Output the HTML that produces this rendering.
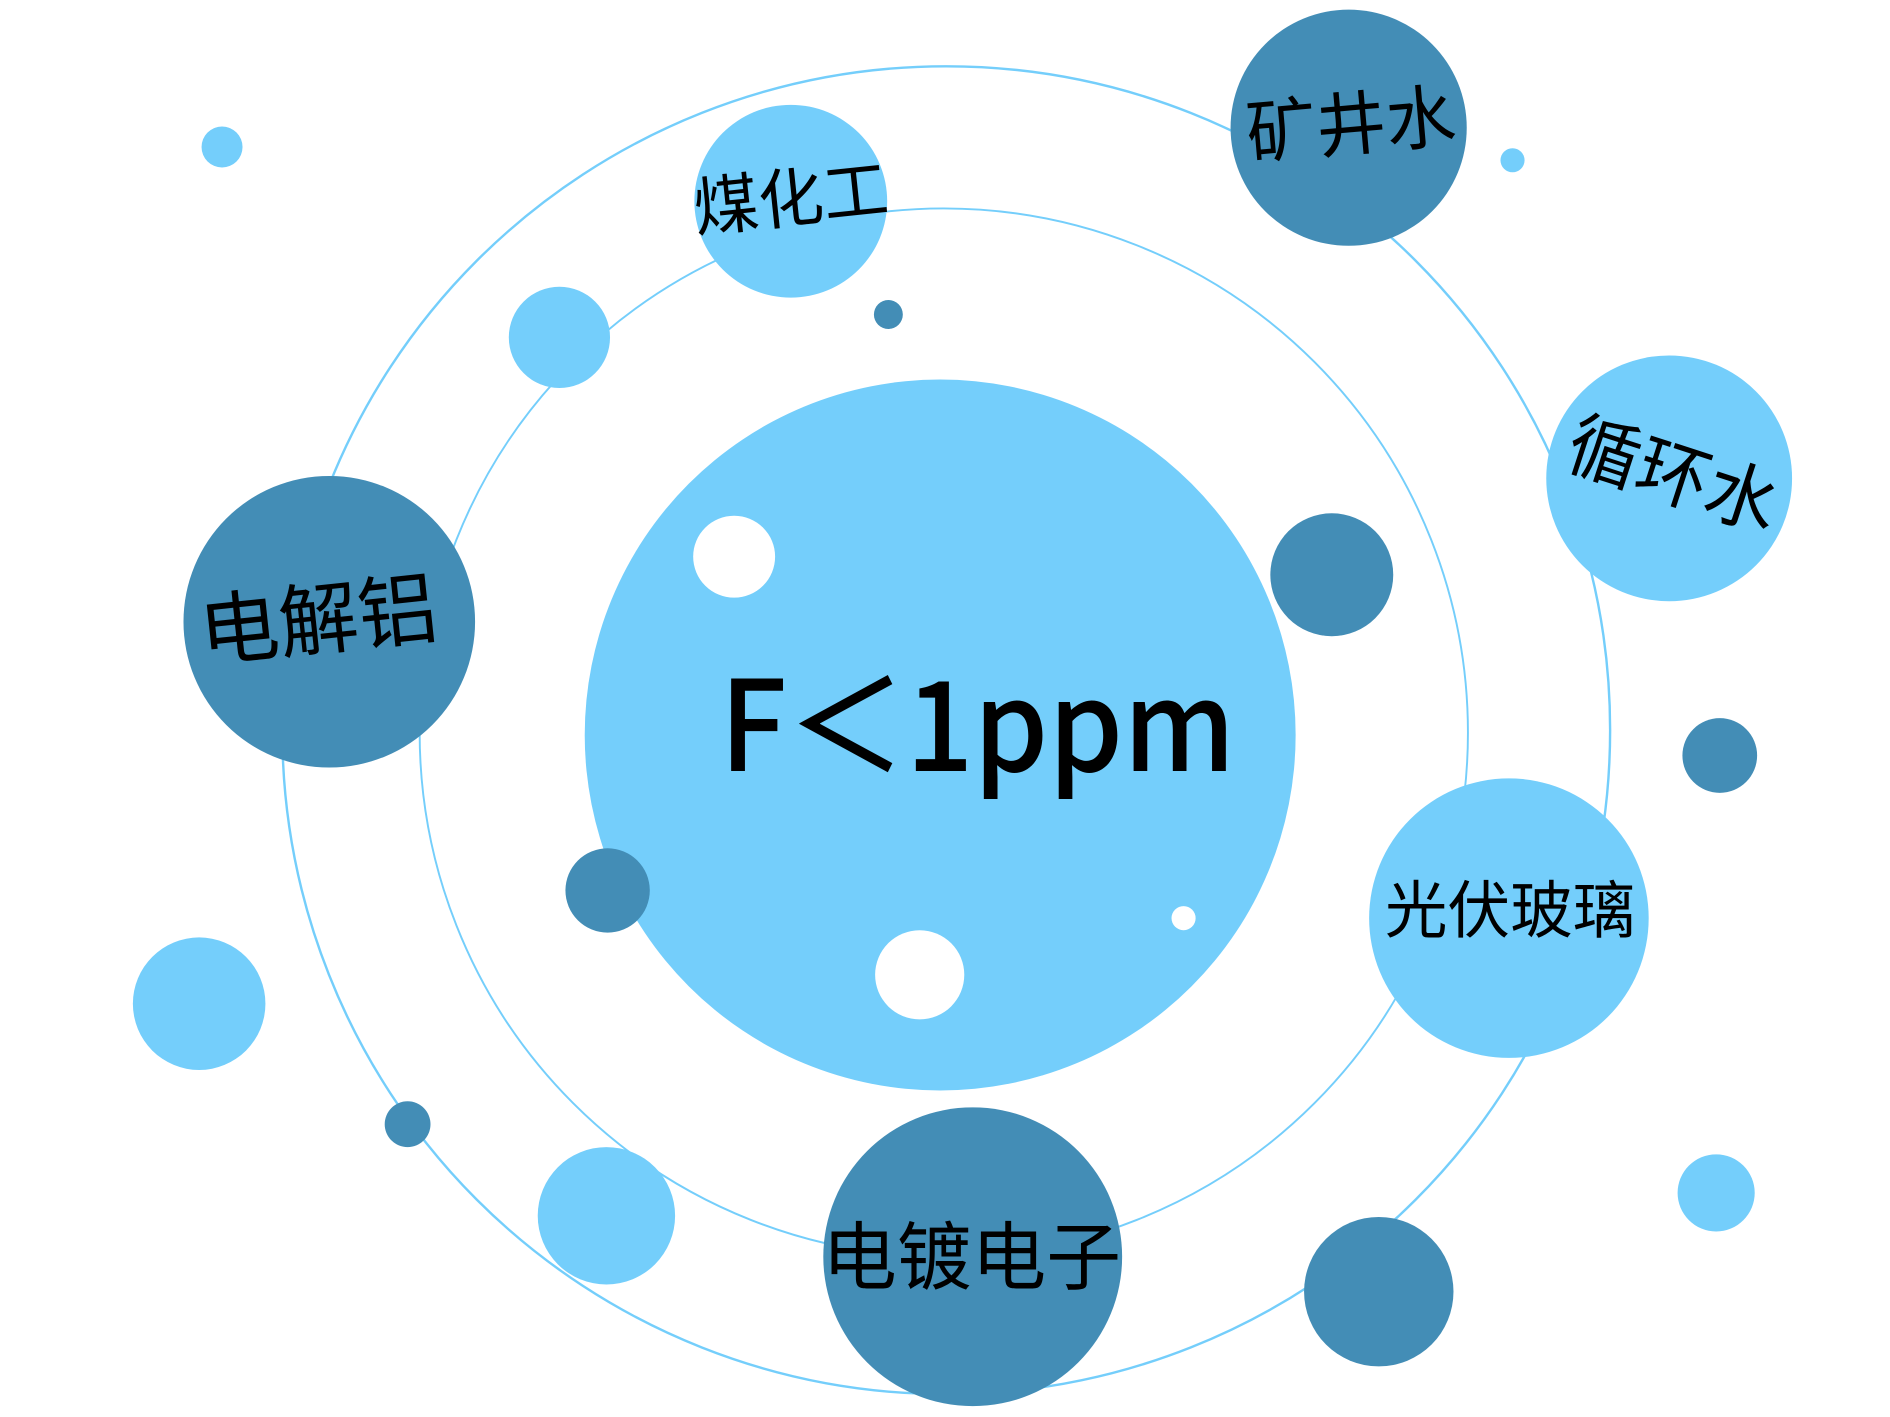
<!DOCTYPE html>
<html><head><meta charset="utf-8"><style>html,body{margin:0;padding:0;background:#fff}svg{display:block}</style></head>
<body>
<svg width="1890" height="1417" viewBox="0 0 1568 1176" xmlns="http://www.w3.org/2000/svg" font-family="'Noto Sans CJK SC','Liberation Sans',sans-serif">
<rect width="1568" height="1176" fill="#fff"/>
<circle cx="785" cy="606" r="551" fill="none" stroke="#74CEFB" stroke-width="2"/>
<circle cx="783" cy="608" r="435" fill="none" stroke="#74CEFB" stroke-width="1.6"/>
<circle cx="780" cy="610" r="295" fill="#74CEFB"/>
<g fill="#74CEFB">
<circle cx="656" cy="167" r="80"/><circle cx="1385" cy="397" r="102"/><circle cx="1252" cy="762" r="116"/>
<circle cx="184" cy="122" r="17"/><circle cx="1255" cy="133" r="10"/><circle cx="464" cy="280" r="42"/>
<circle cx="165" cy="833" r="55"/><circle cx="503" cy="1009" r="57"/><circle cx="1424" cy="990" r="32"/>
</g>
<g fill="#438DB6">
<circle cx="1119" cy="106" r="98"/><circle cx="273" cy="516" r="121"/><circle cx="807" cy="1043" r="124"/>
<circle cx="737" cy="261" r="12"/><circle cx="1105" cy="477" r="51"/><circle cx="1427" cy="627" r="31"/>
<circle cx="504" cy="739" r="35"/><circle cx="338" cy="933" r="19"/><circle cx="1144" cy="1072" r="62"/>
</g>
<g fill="#fff"><circle cx="609" cy="462" r="34"/><circle cx="763" cy="809" r="37"/><circle cx="982" cy="762" r="10"/></g>
<g fill="#000" text-anchor="middle">
<text x="811" y="640" font-size="104" font-weight="500" textLength="428" lengthAdjust="spacingAndGlyphs">F＜1ppm</text>
<text x="656" y="184" font-size="54" transform="rotate(-6 656 165)">煤化工</text>
<text x="1121" y="124" font-size="58" transform="rotate(-5 1121 104)">矿井水</text>
<text x="1388" y="415" font-size="60" transform="rotate(18 1388 395)">循环水</text>
<text x="264" y="538" font-size="66" transform="rotate(-6 264 516)">电解铝</text>
<text x="1253" y="774" font-size="52">光伏玻璃</text>
<text x="806" y="1065" font-size="62">电镀电子</text>
</g>
</svg>
</body></html>
